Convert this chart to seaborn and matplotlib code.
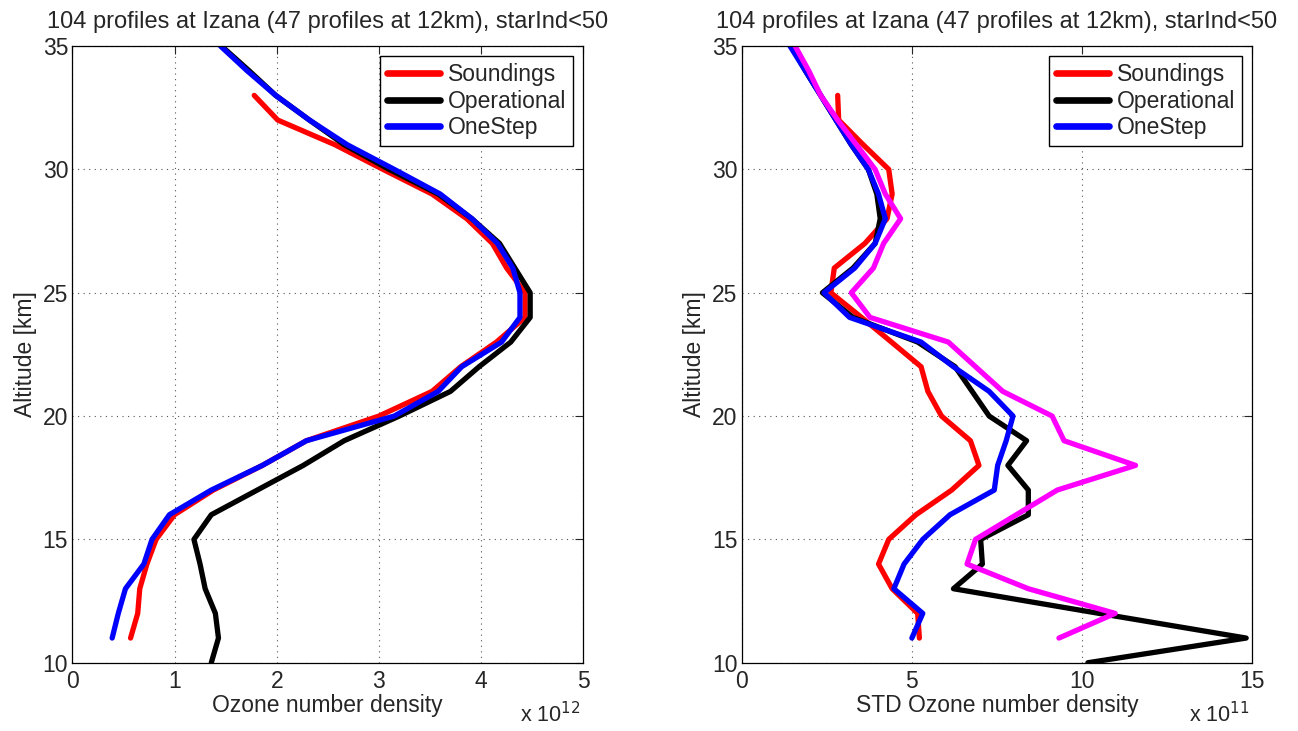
import matplotlib
matplotlib.use("Agg")
import matplotlib.pyplot as plt
import seaborn as sns
import pandas as pd

sns.set_style("white")
plt.rcParams['font.family'] = ['Liberation Sans', 'DejaVu Sans']

# ---------------- data ----------------
title_text = "104 profiles at Izana (47 profiles at 12km), starInd<50"

# Left panel: mean ozone number density (x 1e12)
alt_sound = list(range(11, 34))
sound_mean = [0.57, 0.64, 0.66, 0.73, 0.82, 1.00, 1.38, 1.86, 2.29, 3.00, 3.52, 3.80,
              4.15, 4.43, 4.43, 4.25, 4.11, 3.86, 3.52, 3.04, 2.57, 2.01, 1.78]
alt_oper = list(range(10, 36))
oper_mean = [1.36, 1.43, 1.40, 1.30, 1.25, 1.19, 1.36, 1.81, 2.26, 2.66, 3.20, 3.70, 3.98,
             4.29, 4.48, 4.48, 4.33, 4.18, 3.91, 3.58, 3.10, 2.66, 2.32, 1.99, 1.73, 1.46]
alt_one = list(range(11, 36))
one_mean = [0.39, 0.45, 0.52, 0.70, 0.78, 0.95, 1.36, 1.86, 2.29, 3.15, 3.58, 3.81,
            4.20, 4.38, 4.38, 4.31, 4.16, 3.91, 3.60, 3.15, 2.69, 2.32, 1.99, 1.71, 1.45]

# Right panel: STD ozone number density (x 1e11)
sound_std = [5.22, 5.17, 4.42, 4.02, 4.32, 5.12, 6.17, 6.97, 6.72, 5.87, 5.47, 5.27,
             4.40, 3.52, 2.62, 2.72, 3.62, 4.27, 4.42, 4.32, 3.57, 2.85, 2.82]
oper_std = [10.17, 14.82, 10.50, 6.22, 7.07, 7.02, 8.42, 8.42, 7.82, 8.37, 7.27, 6.77, 6.27,
            5.17, 3.27, 2.37, 3.27, 3.92, 4.07, 3.97, 3.72, 3.22, 2.77, 2.32, 1.87, 1.47]
one_std = [5.00, 5.32, 4.47, 4.77, 5.32, 6.12, 7.42, 7.52, 7.77, 7.97, 7.27, 6.22,
           5.27, 3.17, 2.42, 3.32, 3.92, 4.22, 4.02, 3.72, 3.22, 2.77, 2.32, 1.87, 1.42]
alt_extra = list(range(11, 36))
extra_std = [9.32, 10.97, 8.42, 6.62, 6.87, 8.07, 9.27, 11.57, 9.47, 9.12, 7.67, 6.87,
             6.07, 3.77, 3.22, 3.87, 4.17, 4.67, 4.22, 3.92, 3.37, 2.82, 2.32, 1.97, 1.57]

colors = {"Soundings": "#ff0000", "Operational": "#000000", "OneStep": "#0000ff", "extra": "#ff00ff"}

# ---------------- figure ----------------
fig = plt.figure(figsize=(12.98, 7.31), dpi=100)
axL = fig.add_axes([0.0557, 0.0934, 0.3937, 0.8436])
axR = fig.add_axes([0.5714, 0.0934, 0.3934, 0.8436])

lw = 3.8

def draw(ax, x, y, color, label):
    df = pd.DataFrame({"x": x, "y": y})
    sns.lineplot(data=df, x="x", y="y", orient="y", sort=False, estimator=None,
                 color=color, linewidth=lw, label=label, ax=ax)

draw(axL, sound_mean, alt_sound, colors["Soundings"], "Soundings")
draw(axL, oper_mean, alt_oper, colors["Operational"], "Operational")
draw(axL, one_mean, alt_one, colors["OneStep"], "OneStep")

draw(axR, sound_std, alt_sound, colors["Soundings"], "Soundings")
draw(axR, oper_std, alt_oper, colors["Operational"], "Operational")
draw(axR, one_std, alt_one, colors["OneStep"], "OneStep")
draw(axR, extra_std, alt_extra, colors["extra"], "_nolegend_")

fs = 16.5
for ax, xlim, xticks, xlabel, offs in [
        (axL, (0, 5), [0, 1, 2, 3, 4, 5], "Ozone number density", "x 10$^{12}$"),
        (axR, (0, 15), [0, 5, 10, 15], "STD Ozone number density", "x 10$^{11}$")]:
    ax.set_xlim(*xlim)
    ax.set_ylim(10, 35)
    ax.set_xticks(xticks)
    ax.set_yticks([10, 15, 20, 25, 30, 35])
    ax.set_xlabel(xlabel, fontsize=fs, labelpad=1)
    ax.set_ylabel("Altitude [km]", fontsize=fs, labelpad=4)
    ax.set_title(title_text, fontsize=17, pad=13)
    ax.grid(True, linestyle=(0, (1, 4)), color="#555555", linewidth=0.8)
    ax.tick_params(direction="in", top=True, right=True, labelsize=fs, length=6, width=0.8)
    ax.tick_params(axis="x", pad=5)
    ax.tick_params(axis="y", pad=3)
    for s in ax.spines.values():
        s.set_visible(True)
        s.set_color("black")
        s.set_linewidth(0.9)
    leg = ax.legend(loc="upper right", fontsize=fs, frameon=True, fancybox=False,
                    edgecolor="black", borderaxespad=0.45, handlelength=2.3,
                    handletextpad=0.35, labelspacing=0.15, borderpad=0.3)
    leg.get_frame().set_linewidth(1.0)
    leg.get_frame().set_alpha(1)
    for h in leg.get_lines():
        h.set_linewidth(4.8)
    ax.text(0.995, -0.097, offs, transform=ax.transAxes, fontsize=15.5, ha="right",
            va="baseline")

fig.savefig("out.png", dpi=100)
